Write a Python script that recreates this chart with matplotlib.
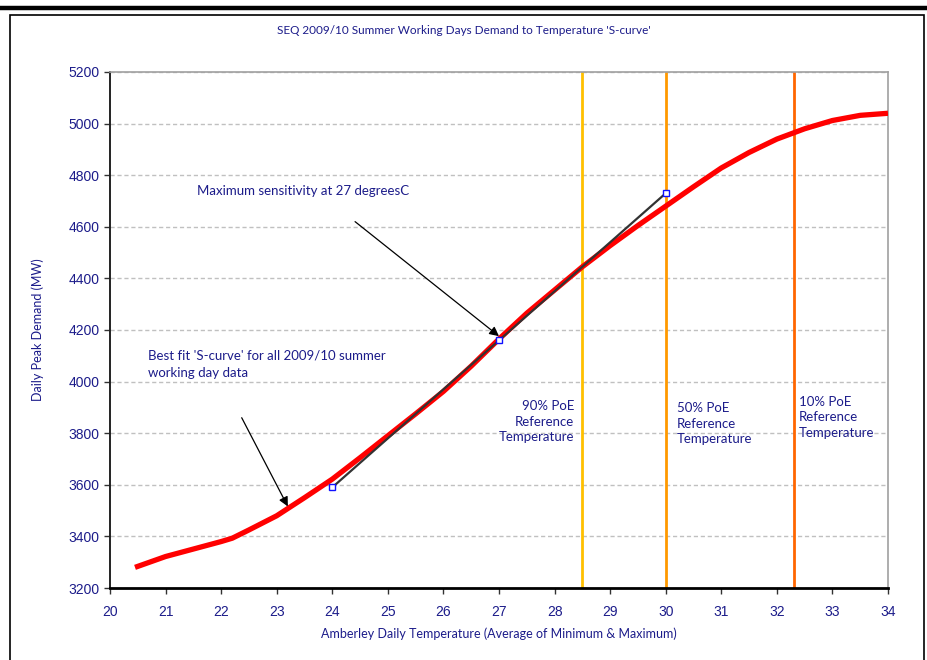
import matplotlib
matplotlib.use("Agg")
import matplotlib.pyplot as plt
from matplotlib.lines import Line2D
from matplotlib.patches import Rectangle

# Fitted S-curve: temperature (degC) vs daily peak demand (MW)
temps = [20.45, 21.0, 22.0, 22.2, 22.5, 23.0, 23.5, 24.0, 24.5, 25.0, 25.5, 26.0,
         26.5, 27.0, 27.5, 28.0, 28.5, 29.0, 29.5, 30.0, 30.5, 31.0, 31.5, 32.0,
         32.5, 33.0, 33.5, 34.0]
demand = [3280, 3322, 3380, 3393, 3425, 3480, 3550, 3622, 3705, 3790, 3875, 3962,
          4060, 4165, 4265, 4355, 4445, 4527, 4605, 4680, 4755, 4828, 4888, 4940,
          4980, 5012, 5032, 5040]

# Tangent at maximum sensitivity (27 degC)
tangent_t = [24.0, 27.0, 30.0]
tangent_d = [3590, 4160, 4730]

# Reference temperatures
poe_temps = [28.5, 30.0, 32.3]
poe_colors = ["#FFC000", "#FF9900", "#FF6600"]
poe_labels = ["90% PoE\nReference\nTemperature",
              "50% PoE\nReference\nTemperature",
              "10% PoE\nReference\nTemperature"]

x_ticks = list(range(20, 35))
y_ticks = list(range(3200, 5201, 200))

navy = "#1C1C8A"
txt_font = ["Lato", "DejaVu Sans"]
tick_font = ["Liberation Sans", "DejaVu Sans"]

fig = plt.figure(figsize=(9.28, 6.6), dpi=100)
W, H = 928, 660

# Page decoration: heavy rule and chart frame
fig.add_artist(Line2D([0, 1], [1 - 8 / H, 1 - 8 / H], transform=fig.transFigure,
                      color="black", lw=3.2))
fig.add_artist(Rectangle((10 / W, -0.01), (924 - 10) / W, (660 - 15) / H + 0.01,
                         transform=fig.transFigure, fill=False, ec="black", lw=1.2))

ax = fig.add_axes([110 / W, 1 - 588 / H, (888 - 110) / W, (588 - 72) / H])
ax.set_xlim(20, 34)
ax.set_ylim(3200, 5200)
ax.set_xticks(x_ticks)
ax.set_yticks(y_ticks)
ax.yaxis.grid(True, color="#C0C0C0", ls=(0, (3, 2)), lw=1)
ax.set_axisbelow(True)

for s in ["top", "right"]:
    ax.spines[s].set_color("#A0A0A0")
    ax.spines[s].set_linewidth(1.2)
ax.spines["left"].set_color("#222222")
ax.spines["left"].set_linewidth(1.4)
ax.spines["bottom"].set_color("black")
ax.spines["bottom"].set_linewidth(2)
ax.tick_params(direction="out", length=4, width=1, color="#333333",
               labelcolor=navy, labelsize=10)
for lab in ax.get_xticklabels() + ax.get_yticklabels():
    lab.set_family(tick_font)
ax.tick_params(axis="x", pad=8)

for t, c in zip(poe_temps, poe_colors):
    ax.axvline(t, color=c, lw=2)

ax.plot(temps, demand, color="#FF0000", lw=3.8, solid_capstyle="butt", zorder=3)
ax.plot(tangent_t, tangent_d, color="#333333", lw=1.6, zorder=4)
ax.plot(tangent_t, tangent_d, ls="none", marker="s", ms=4, mfc="white",
        mec="#1010FF", mew=1.0, zorder=5)

ax.text(0.5, 1.0 - 30 / H, "SEQ 2009/10 Summer Working Days Demand to Temperature 'S-curve'",
        transform=fig.transFigure, ha="center", va="center", color=navy,
        fontsize=8.5, family=txt_font)

ax.set_xlabel("Amberley Daily Temperature (Average of Minimum & Maximum)",
              color=navy, fontsize=9, family=txt_font, labelpad=6)
ax.set_ylabel("Daily Peak Demand (MW)", color=navy, fontsize=9, family=txt_font)
ax.yaxis.set_label_coords(-(110 - 44) / 778, 0.5)

arrow_kw = dict(arrowstyle="-|>", color="black", lw=0.9, mutation_scale=14,
                shrinkA=0, shrinkB=0)
ax.text(21.57, 4740, "Maximum sensitivity at 27 degreesC", color=navy, fontsize=9.5,
        family=txt_font, ha="left", va="center")
ax.annotate("", xy=(27.0, 4176), xytext=(24.41, 4620), arrowprops=arrow_kw)
ax.annotate("", xy=(23.2, 3516), xytext=(22.37, 3860), arrowprops=arrow_kw)
ax.text(20.68, 4068, "Best fit 'S-curve' for all 2009/10 summer\nworking day data",
        color=navy, fontsize=9.5, family=txt_font, ha="left", va="center",
        linespacing=1.5)

ax.text(28.35, 3928, poe_labels[0], color=navy, fontsize=9.5, family=txt_font,
        ha="right", va="top", linespacing=1.35)
ax.text(30.2, 3920, poe_labels[1], color=navy, fontsize=9.5, family=txt_font,
        ha="left", va="top", linespacing=1.35)
ax.text(32.4, 3945, poe_labels[2], color=navy, fontsize=9.5, family=txt_font,
        ha="left", va="top", linespacing=1.35)

fig.savefig("out.png", dpi=100)
